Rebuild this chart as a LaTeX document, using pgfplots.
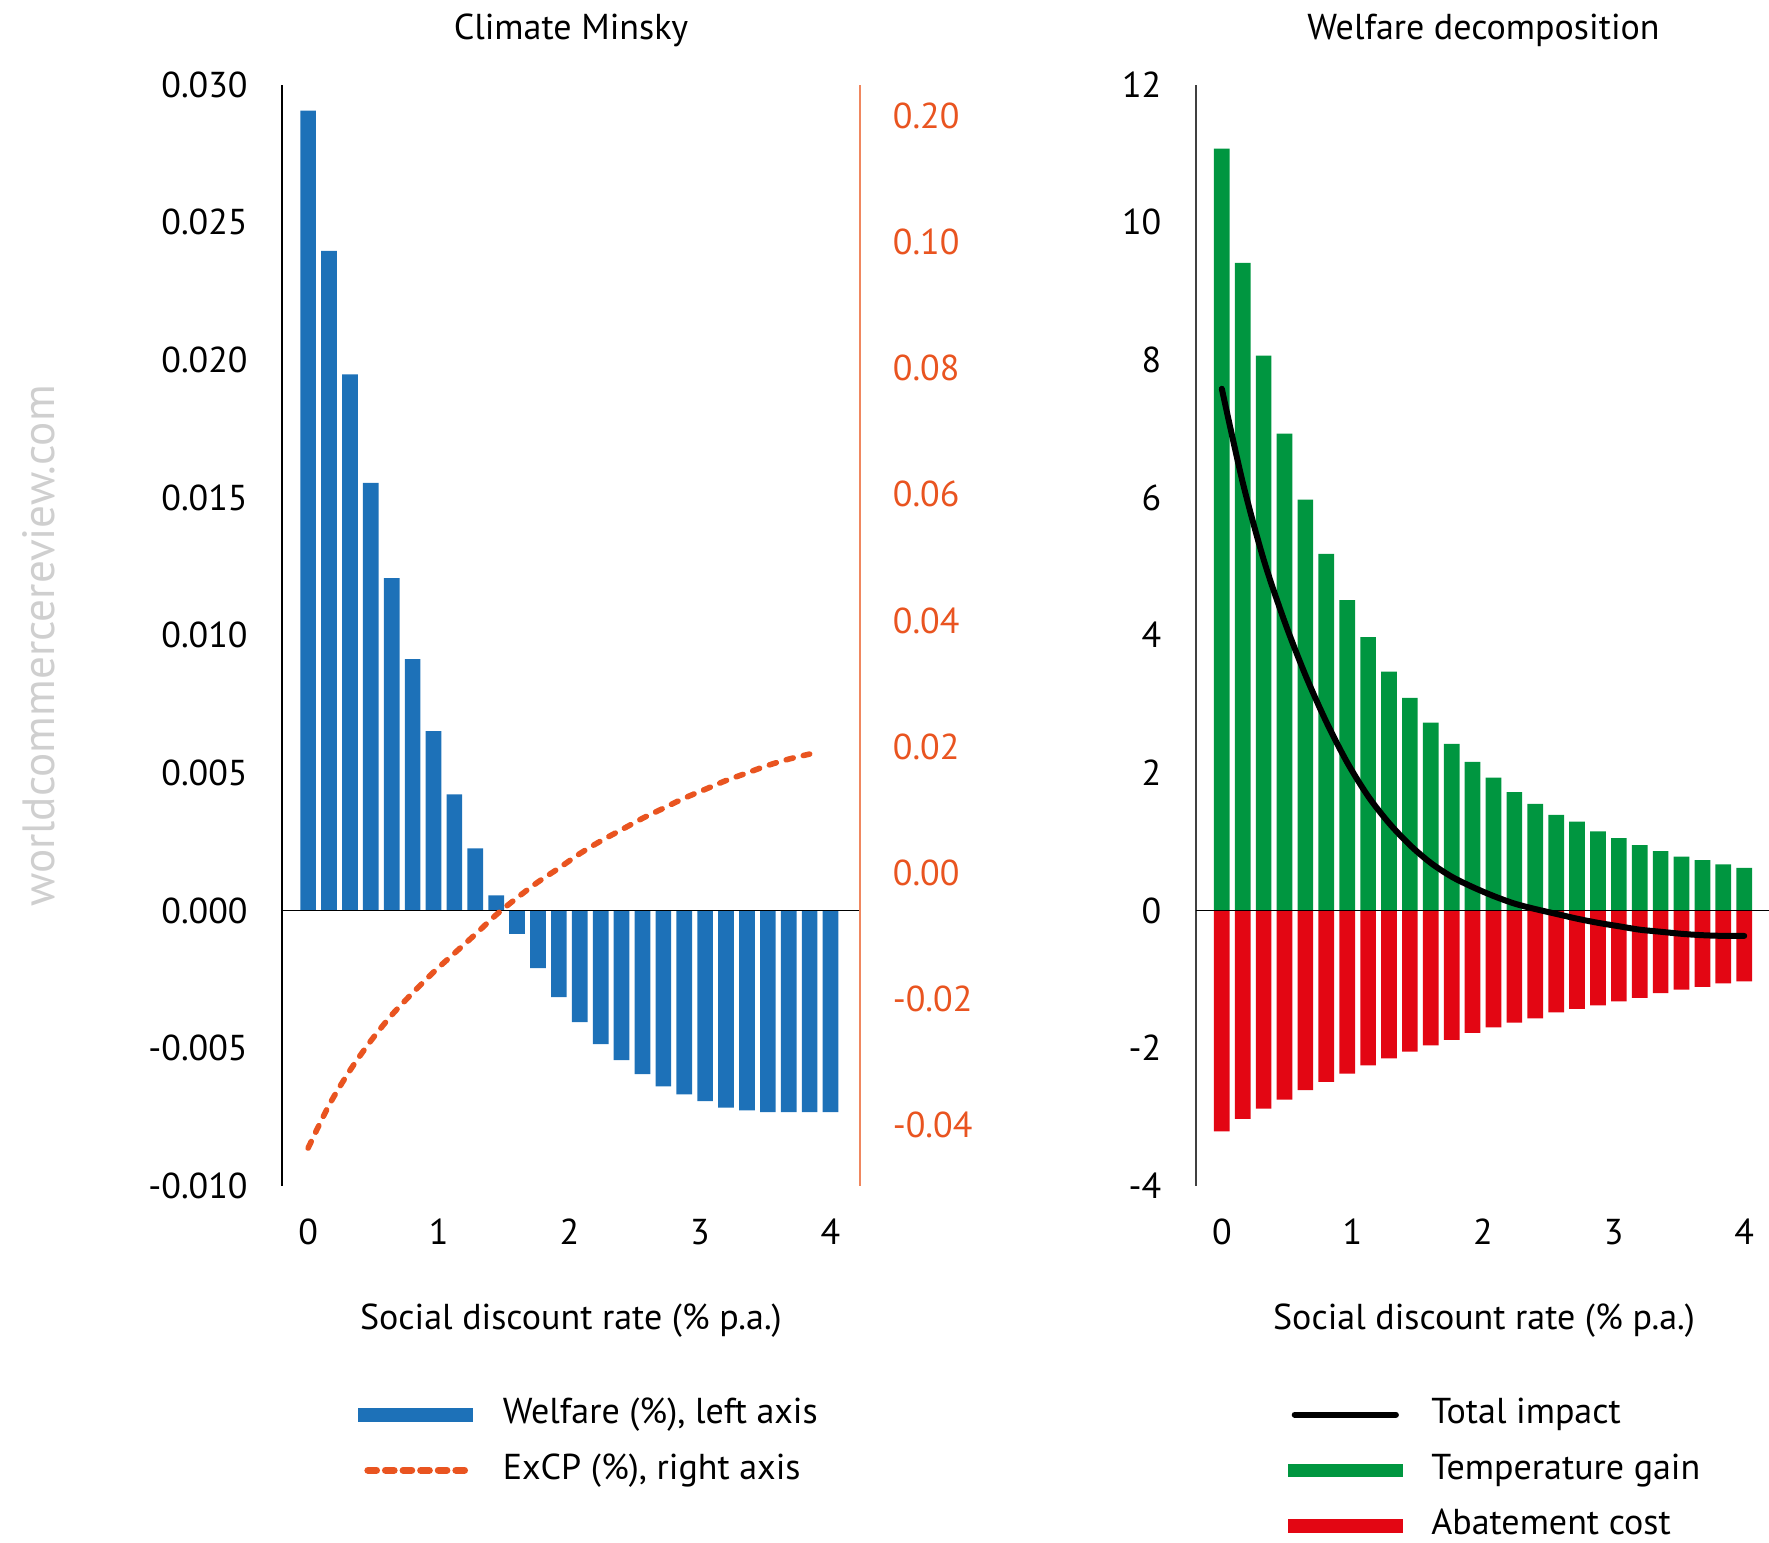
\documentclass[border=0pt]{standalone}
\usepackage{fontspec}
\setmainfont{PT Sans}
\usepackage{pgfplots}
\usepackage{pgfplotstable}
\pgfplotsset{compat=1.18}

\definecolor{wblue}{RGB}{29,113,184}
\definecolor{excp}{RGB}{233,84,32}
\definecolor{excpaxis}{RGB}{240,135,95}
\definecolor{tgreen}{RGB}{0,150,64}
\definecolor{ared}{RGB}{227,6,19}

\newcommand{\chartfont}{\fontsize{18}{21.6}\selectfont}

% Welfare change (%), left axis
\pgfplotstableread{
x     welfare
0.00  0.02905
0.16  0.02396
0.32  0.01947
0.48  0.01553
0.64  0.01207
0.80  0.00913
0.96  0.00651
1.12  0.00422
1.28  0.00225
1.44  0.00055
1.60 -0.00085
1.76 -0.00210
1.92 -0.00315
2.08 -0.00406
2.24 -0.00486
2.40 -0.00544
2.56 -0.00595
2.72 -0.00639
2.88 -0.00668
3.04 -0.00693
3.20 -0.00716
3.36 -0.00726
3.52 -0.00733
3.68 -0.00733
3.84 -0.00733
4.00 -0.00733
}\welfaretab

% ExCP (%), right axis
\pgfplotstableread{
x     excp
0.00 -0.0437
0.16 -0.0369
0.32 -0.0314
0.48 -0.0267
0.64 -0.0226
0.80 -0.0191
0.96 -0.0158
1.12 -0.0128
1.28 -0.0098
1.44 -0.0067
1.60 -0.0040
1.76 -0.0015
1.92  0.0007
2.08  0.0030
2.24  0.0050
2.40  0.0068
2.56  0.0086
2.72  0.0102
2.88  0.0118
3.04  0.0132
3.20  0.0146
3.36  0.0158
3.52  0.0170
3.68  0.0180
3.84  0.0188
}\excptab

% Welfare decomposition: temperature gain, abatement cost, total impact
\pgfplotstableread{
x     gain  cost   total
0.00 11.07 -3.21  7.58
0.16  9.41 -3.03  6.22
0.32  8.06 -2.88  5.10
0.48  6.93 -2.75  4.20
0.64  5.97 -2.61  3.42
0.80  5.18 -2.49  2.74
0.96  4.51 -2.37  2.15
1.12  3.97 -2.25  1.66
1.28  3.47 -2.15  1.27
1.44  3.09 -2.05  0.95
1.60  2.73 -1.96  0.69
1.76  2.42 -1.88  0.49
1.92  2.16 -1.78  0.34
2.08  1.93 -1.70  0.21
2.24  1.72 -1.63  0.10
2.40  1.55 -1.57  0.02
2.56  1.39 -1.48 -0.05
2.72  1.29 -1.43 -0.12
2.88  1.15 -1.38 -0.18
3.04  1.05 -1.32 -0.23
3.20  0.95 -1.27 -0.28
3.36  0.86 -1.20 -0.31
3.52  0.78 -1.15 -0.34
3.68  0.73 -1.11 -0.36
3.84  0.67 -1.06 -0.37
4.00  0.62 -1.03 -0.37
}\decomptab

\pgfplotsset{
  panel/.style={
    scale only axis,
    anchor=south west,
    height=550.55pt,
    xmin=-0.2,
    scaled y ticks=false,
    major tick length=0pt,
    tick style={draw=none},
    xtick={0,1,2,3,4},
    xticklabels={0,1,2,3,4},
    xticklabel style={anchor=base, yshift=-29.6pt, inner sep=0pt},
    axis x line*=bottom,
    x axis line style={draw=none},
    axis y line*=left,
    yticklabel style={anchor=east, inner sep=0pt, xshift=-17pt},
    legend cell align=left,
    legend style={
      at={(0,0)}, anchor=north west, yshift=-110pt,
      draw=none, fill=none, inner sep=0pt, outer sep=0pt,
      row sep=18.75pt, font=\chartfont,
      nodes={inner sep=0pt, text height=9pt, text depth=0pt},
    },
  },
}

\begin{document}
\begin{tikzpicture}[x=0.5pt, y=0.5pt, font=\chartfont]
\path[use as bounding box] (0,0) rectangle (1769,1543);

% ---------- Climate Minsky ----------
\begin{axis}[panel,
  at={(141pt,178.65pt)}, width=288.85pt,
  xmax=4.2234, ymin=-0.01, ymax=0.03,
  ytick={-0.010,-0.005,0,0.005,0.010,0.015,0.020,0.025,0.030},
  yticklabels={-0.010,-0.005,0.000,0.005,0.010,0.015,0.020,0.025,0.030},
  y axis line style={black, line width=0.85pt},
  legend style={xshift=37.8pt,
    /tikz/every odd column/.append style={column sep=15.2pt}},
]
\addlegendimage{legend image code/.code={\fill[wblue] (0pt,-3.35pt) rectangle (57pt,3.35pt);}}
\addlegendentry{Welfare (\%), left axis}
\addlegendimage{legend image code/.code={\draw[excp, line width=3.65pt, line cap=round,
  dash pattern=on 4.2pt off 4.6pt] (5pt,0pt) -- (54pt,0pt);}}
\addlegendentry{ExCP (\%), right axis}
\addplot[ybar, bar width=0.12, bar shift=0pt, fill=wblue, draw=none, forget plot]
  table[x=x, y=welfare] {\welfaretab};
\draw[black, line width=0.75pt] (axis cs:-0.2,0) -- (axis cs:4.2234,0);
\end{axis}

\begin{axis}[
  scale only axis, anchor=south west,
  at={(141pt,178.65pt)}, width=288.85pt, height=550.55pt,
  xmin=-0.2, xmax=4.2234, ymin=-0.04967, ymax=0.125,
  scaled y ticks=false,
  axis x line=none, xtick=\empty,
  axis y line*=right,
  y axis line style={excpaxis, line width=1pt},
  major tick length=0pt, tick style={draw=none},
  ytick={-0.04,-0.02,0,0.02,0.04,0.06,0.08,0.10,0.12},
  yticklabels={-0.04,-0.02,0.00,0.02,0.04,0.06,0.08,0.10,0.20},
  yticklabel style={anchor=west, inner sep=0pt, xshift=16.4pt, text=excp},
]
\addplot[excp, line width=2.8pt, line cap=round, dash pattern=on 3.6pt off 5.2pt, smooth]
  table[x=x, y=excp] {\excptab};
\end{axis}

% ---------- Welfare decomposition ----------
\begin{axis}[panel,
  at={(597.85pt,178.65pt)}, width=286.65pt,
  xmax=4.1897, ymin=-4, ymax=12,
  ytick={-4,-2,0,2,4,6,8,10,12},
  yticklabels={-4,-2,0,2,4,6,8,10,12},
  y axis line style={black!75, line width=0.85pt},
  legend style={xshift=45.9pt,
    /tikz/every odd column/.append style={column sep=14.5pt}},
]
\addlegendimage{legend image code/.code={\draw[black, line width=3pt, line cap=round] (3.4pt,0pt) -- (54pt,0pt);}}
\addlegendentry{Total impact}
\addlegendimage{legend image code/.code={\fill[tgreen] (0pt,-3.1pt) rectangle (57pt,3.1pt);}}
\addlegendentry{Temperature gain}
\addlegendimage{legend image code/.code={\fill[ared] (0pt,-3.1pt) rectangle (57pt,3.1pt);}}
\addlegendentry{Abatement cost}
\addplot[ybar, bar width=0.12, bar shift=0pt, fill=tgreen, draw=none, forget plot]
  table[x=x, y=gain] {\decomptab};
\addplot[ybar, bar width=0.12, bar shift=0pt, fill=ared, draw=none, forget plot]
  table[x=x, y=cost] {\decomptab};
\draw[black, line width=0.75pt] (axis cs:-0.2,0) -- (axis cs:4.1897,0);
\addplot[black, line width=3pt, line cap=round, smooth, forget plot]
  table[x=x, y=total] {\decomptab};
\end{axis}

% titles, axis titles and site mark
\node[anchor=base] at (570.9,1503) {Climate Minsky};
\node[anchor=base] at (1483.5,1503) {Welfare decomposition};
\node[anchor=base] at (570.9,213) {Social discount rate (\% p.a.)};
\node[anchor=base] at (1484,213) {Social discount rate (\% p.a.)};
\node[rotate=90, text=black!19, font=\fontsize{22.6}{23}\selectfont] at (39,897) {worldcommercereview.com};
\end{tikzpicture}
\end{document}
